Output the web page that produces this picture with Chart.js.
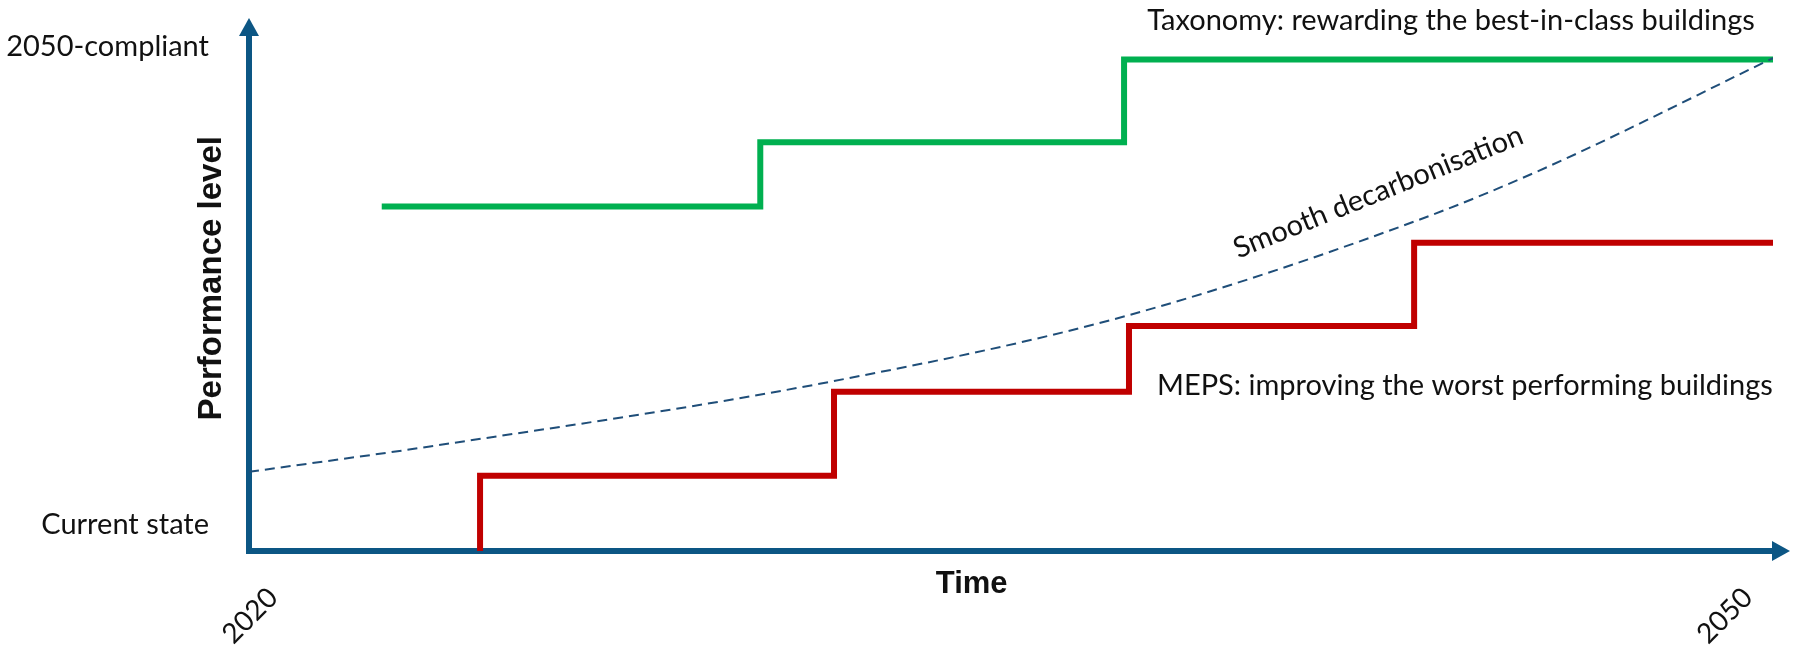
<!DOCTYPE html>
<html>
<head>
<meta charset="utf-8">
<title>Taxonomy vs MEPS</title>
<script src="https://cdn.jsdelivr.net/npm/chart.js@4.4.1/dist/chart.umd.min.js"></script>
<style>
  html, body { margin: 0; padding: 0; background: #ffffff; }
  #wrap { width: 1798px; height: 646px; }
</style>
</head>
<body>
<div id="wrap"><canvas id="chart" width="1798" height="646"></canvas></div>
<script>
// ---- Time axis (years) ----
const xMin = 2020;
const xMax = 2051;
const xTickValues = [2020, 2050];
const xTickLabels = ['2020', '2050'];

// ---- Performance axis: 0 = current state, 100 = 2050-compliant ----
const yMin = 0;
const yMax = 105;
const yTickValues = [5.3, 102.7];
const yTickLabels = ['Current state', '2050-compliant'];

// Taxonomy thresholds: rewarding the best-in-class buildings
const taxonomyYears  = [2022.7, 2030.4, 2037.8, 2051];
const taxonomyLevels = [70.1, 83.2, 100, 100];

// MEPS thresholds: improving the worst performing buildings
const mepsYears  = [2024.7, 2024.7, 2031.9, 2037.9, 2043.7, 2051];
const mepsLevels = [0, 15.3, 32.4, 45.8, 62.7, 62.7];

// Smooth decarbonisation trajectory
const pathYears  = [2020, 2023.9, 2031.8, 2037.9, 2043.8, 2046.4, 2051];
const pathLevels = [16.1, 21.6, 34.4, 48.0, 67.4, 78.1, 100.3];

const axisBlue = '#0c5684';
const green = '#00b050';
const red = '#c00000';
const pathBlue = '#1f4e79';
const textColor = '#111111';

const toPoints = (xs, ys) => xs.map((x, i) => ({ x: x, y: ys[i] }));

// Free text placed in data coordinates
const notes = [
  { text: 'Taxonomy: rewarding the best-in-class buildings', x: 2038.27, y: 106.0, align: 'left', baseline: 'alphabetic', rot: 0 },
  { text: 'MEPS: improving the worst performing buildings', x: 2038.47, y: 31.75, align: 'left', baseline: 'alphabetic', rot: 0 },
  { text: 'Smooth decarbonisation', x: 2042.97, y: 73.05, align: 'center', baseline: 'middle', rot: -22 }
];
const noteFont = '29px Lato';
const xTitleFont = 'bold 31px "Liberation Sans"';
const yTitleFont = 'bold 33px "Liberation Sans"';

const annotationsPlugin = {
  id: 'annotations',
  afterDraw(chart) {
    const { ctx, chartArea, scales } = chart;
    const xs = scales.x, ys = scales.y;
    ctx.save();

    // arrow heads at the ends of both axes
    ctx.fillStyle = axisBlue;
    ctx.beginPath();
    ctx.moveTo(chartArea.left - 10, chartArea.top + 1);
    ctx.lineTo(chartArea.left + 10, chartArea.top + 1);
    ctx.lineTo(chartArea.left, chartArea.top - 17);
    ctx.closePath();
    ctx.fill();
    ctx.beginPath();
    ctx.moveTo(chartArea.right - 1, chartArea.bottom - 10);
    ctx.lineTo(chartArea.right - 1, chartArea.bottom + 10);
    ctx.lineTo(chartArea.right + 17, chartArea.bottom);
    ctx.closePath();
    ctx.fill();

    // series notes
    ctx.fillStyle = textColor;
    ctx.font = noteFont;
    notes.forEach(n => {
      ctx.save();
      ctx.translate(xs.getPixelForValue(n.x), ys.getPixelForValue(n.y));
      ctx.rotate(n.rot * Math.PI / 180);
      ctx.textAlign = n.align;
      ctx.textBaseline = n.baseline;
      ctx.fillText(n.text, 0, 0);
      ctx.restore();
    });

    // axis titles
    ctx.textAlign = 'center';
    ctx.textBaseline = 'middle';
    ctx.font = xTitleFont;
    ctx.fillText('Time', xs.getPixelForValue(2034.7), chartArea.bottom + 33);
    ctx.font = yTitleFont;
    ctx.save();
    ctx.translate(chartArea.left - 37, ys.getPixelForValue(55.5));
    ctx.rotate(-Math.PI / 2);
    ctx.fillText('Performance level', 0, 0);
    ctx.restore();

    ctx.restore();
  }
};

new Chart(document.getElementById('chart'), {
  type: 'line',
  data: {
    datasets: [
      {
        label: 'Smooth decarbonisation',
        data: toPoints(pathYears, pathLevels),
        borderColor: pathBlue,
        borderWidth: 2,
        borderDash: [10, 6],
        cubicInterpolationMode: 'monotone',
        pointRadius: 0,
        fill: false
      },
      {
        label: 'Taxonomy',
        data: toPoints(taxonomyYears, taxonomyLevels),
        borderColor: green,
        borderWidth: 6,
        stepped: 'before',
        borderJoinStyle: 'miter',
        borderCapStyle: 'butt',
        pointRadius: 0,
        fill: false
      },
      {
        label: 'MEPS',
        data: toPoints(mepsYears, mepsLevels),
        borderColor: red,
        borderWidth: 6,
        stepped: 'before',
        borderJoinStyle: 'miter',
        borderCapStyle: 'butt',
        pointRadius: 0,
        fill: false
      }
    ]
  },
  options: {
    responsive: false,
    devicePixelRatio: 1,
    animation: false,
    events: [],
    layout: { padding: { top: 35, right: 25, left: 0, bottom: 0 } },
    plugins: {
      legend: { display: false },
      tooltip: { enabled: false }
    },
    scales: {
      x: {
        type: 'linear',
        min: xMin,
        max: xMax,
        grid: { display: false, drawTicks: false },
        border: { display: true, color: axisBlue, width: 6 },
        afterBuildTicks: s => { s.ticks = xTickValues.map(v => ({ value: v })); },
        afterFit: s => { s.height = 95; s.paddingLeft = 0; s.paddingRight = 0; },
        ticks: {
          autoSkip: false,
          minRotation: 45,
          maxRotation: 45,
          padding: 30,
          labelOffset: 24,
          color: textColor,
          font: { family: 'Lato', size: 28 },
          callback: (v, i) => xTickLabels[i]
        }
      },
      y: {
        type: 'linear',
        min: yMin,
        max: yMax,
        grid: { display: false, drawTicks: false },
        border: { display: true, color: axisBlue, width: 6 },
        afterBuildTicks: s => { s.ticks = yTickValues.map(v => ({ value: v })); },
        afterFit: s => { s.width = 249; s.paddingTop = 0; s.paddingBottom = 0; },
        ticks: {
          autoSkip: false,
          padding: 40,
          color: textColor,
          font: { family: 'Lato', size: 29 },
          callback: (v, i) => yTickLabels[i]
        }
      }
    }
  },
  plugins: [annotationsPlugin]
});
</script>
</body>
</html>
